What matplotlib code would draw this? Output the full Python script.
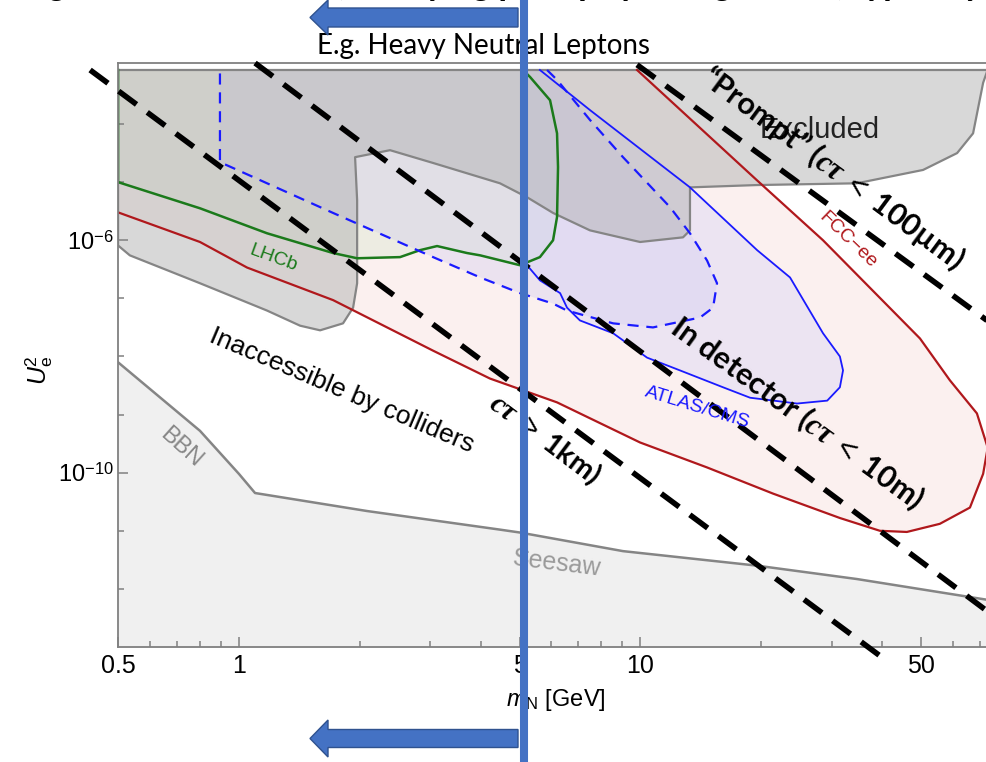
import matplotlib.pyplot as plt
import numpy as np
from matplotlib.lines import Line2D
from matplotlib.patches import FancyArrow
from matplotlib.ticker import NullFormatter
from matplotlib import transforms

plt.rcParams['font.family'] = ['Liberation Sans', 'DejaVu Sans']
plt.rcParams['mathtext.fontset'] = 'custom'
plt.rcParams['mathtext.rm'] = 'Liberation Sans'
plt.rcParams['mathtext.sf'] = 'Liberation Sans:italic'
plt.rcParams['mathtext.it'] = 'Liberation Serif:italic:bold'
plt.rcParams['mathtext.bf'] = 'Liberation Sans:bold'

# HNL sensitivity regions, mass in GeV and log10(U_e^2)
U2_TOP = -3.07

excl_m = [0.5, 73.5, 73.0, 71.4, 67.4, 61.5, 50.6, 34.6, 19.53, 13.29, 13.29, 12.77,
          9.98, 7.49, 6.06, 5.22, 4.47, 3.045, 2.379, 1.947, 1.97, 1.97, 1.925, 1.817,
          1.593, 1.42, 1.175, 0.8, 0.535, 0.5, 0.5]
excl_lu = [U2_TOP, U2_TOP, -3.10, -3.29, -4.16, -4.50, -4.79, -5.02, -5.05, -5.09, -5.83, -5.95,
           -6.03, -5.83, -5.53, -5.26, -5.02, -4.67, -4.45, -4.57, -5.31, -6.74, -7.16, -7.43,
           -7.55, -7.47, -7.21, -6.74, -6.26, -6.09, U2_TOP]

bbn_m = [0.5, 0.8, 1.0, 1.097, 2.086, 4.47, 5.014, 9.05, 19.53, 34.6, 73.5]
bbn_lu = [-8.10, -9.28, -10.02, -10.35, -10.66, -10.98, -11.03, -11.35, -11.60, -11.83, -12.19]

fcc_m = [9.81, 19.53, 28.5, 49.7, 59.0, 68.9, 73.3, 71.4, 66.2, 55.7, 46.1, 39.5,
         31.4, 21.4, 14.66, 9.98, 6.20, 4.22, 3.045, 1.716, 1.048, 0.8, 0.5]
fcc_lu = [U2_TOP, -4.97, -6.00, -7.69, -8.41, -8.98, -9.57, -10.02, -10.60, -10.88, -11.02, -11.00,
          -10.78, -10.36, -9.91, -9.48, -8.79, -8.38, -7.90, -7.03, -6.47, -6.03, -5.52]

lhcb_m = [5.10, 5.31, 5.956, 6.20, 6.235, 6.20, 6.06, 5.62, 5.014, 3.99, 3.70, 3.116,
          2.827, 2.52, 1.97, 1.716, 1.175, 0.8, 0.5, 0.5]
lhcb_lu = [U2_TOP, -3.19, -3.59, -4.16, -4.74, -5.60, -6.00, -6.29, -6.43, -6.26, -6.22, -6.10,
           -6.17, -6.29, -6.31, -6.22, -5.88, -5.45, -5.00, U2_TOP]

displ_m = [5.855, 6.20, 7.49, 9.05, 11.85, 13.29, 14.66, 15.52, 15.17, 14.08, 10.75, 8.55,
           6.565, 6.06, 5.014, 3.99, 3.045, 1.716, 0.934, 0.897, 0.897]
displ_lu = [U2_TOP, -3.24, -3.93, -4.57, -5.43, -5.88, -6.35, -6.74, -7.16, -7.33, -7.50, -7.43,
            -7.21, -7.09, -6.91, -6.64, -6.29, -5.53, -4.71, -4.66, U2_TOP]

atlas_m = [5.62, 7.49, 13.29, 19.53, 23.59, 28.5, 31.4, 31.97, 31.4, 29.2, 24.56, 18.76,
           16.06, 12.55, 10.39, 8.55, 7.07, 6.565, 6.31, 5.62, 5.22, 5.07, 5.07]
atlas_lu = [U2_TOP, -3.76, -5.09, -6.17, -6.64, -7.60, -8.00, -8.24, -8.53, -8.76, -8.81, -8.71,
            -8.53, -8.24, -8.02, -7.60, -7.38, -7.16, -6.91, -6.69, -6.43, -6.38, U2_TOP]

# constant decay length contours
km_m, km_lu = [0.426, 40.2], [-3.07, -13.19]
tenm_m, tenm_lu = [1.097, 73.0], [-2.95, -12.38]
prompt_m, prompt_lu = [9.81, 73.0], [-2.98, -7.38]

split_mass = 5.13

x_ticks = [0.5, 1, 5, 10, 50]
x_ticklabels = ['0.5', '1', '5', '10', '50']
x_minor = [0.6, 0.7, 0.8, 0.9, 2, 3, 4, 6, 7, 8, 9, 20, 30, 40, 60, 70]
y_ticks = [1e-10, 1e-6]
y_ticklabels = [r'$10^{-10}$', r'$10^{-6}$']
y_minor = [1e-12, 1e-11, 1e-9, 1e-8, 1e-7, 1e-5, 1e-4]


def u2(lu):
    return 10.0 ** np.asarray(lu)


fig = plt.figure(figsize=(9.87, 7.62), dpi=100)
ax = fig.add_axes([0.1196, 0.1509, 0.8804, 0.7664])
ax.set_xscale('log')
ax.set_yscale('log')
ax.set_xlim(0.5, 73.0)
ax.set_ylim(1e-13, 10 ** -2.95)

# filled regions
ax.fill_between(bbn_m, u2(bbn_lu), 1e-14, color='#f0f0f0', lw=0, zorder=1)
ax.fill(fcc_m + [0.5], u2(fcc_lu + [U2_TOP]), color='#fbf0ef', lw=0, zorder=1.1)
ax.fill(lhcb_m, u2(lhcb_lu), color='#d8e8d0', alpha=0.4, lw=0, zorder=1.2)
ax.fill(displ_m, u2(displ_lu), color='#c8c4f0', alpha=0.3, lw=0, zorder=1.3)
ax.fill(atlas_m, u2(atlas_lu), color='#d2d0f8', alpha=0.35, lw=0, zorder=1.4)
ax.fill(excl_m, u2(excl_lu), color='#b3b3b3', alpha=0.5, lw=0, zorder=1.5)

# outlines
ax.plot(excl_m, u2(excl_lu), color='#858585', lw=1.6, zorder=2)
ax.plot(bbn_m, u2(bbn_lu), color='#858585', lw=1.8, zorder=2)
ax.plot(fcc_m, u2(fcc_lu), color='#b0181c', lw=1.6, zorder=2.1)
ax.plot(lhcb_m, u2(lhcb_lu), color='#1b7a1b', lw=1.8, zorder=2.2)
ax.plot(displ_m, u2(displ_lu), color='#1a1aff', lw=1.6, dashes=(5, 3.5), zorder=2.3)
ax.plot(atlas_m, u2(atlas_lu), color='#1a1aff', lw=1.3, zorder=2.4)

for lm, llu in [(km_m, km_lu), (tenm_m, tenm_lu), (prompt_m, prompt_lu)]:
    ax.plot(lm, u2(llu), color='black', lw=4, dashes=(4, 2.4),
            solid_capstyle='butt', dash_capstyle='butt', clip_on=False, zorder=3)

# axes styling
for side in ['left', 'bottom', 'top']:
    ax.spines[side].set_color('#808080')
    ax.spines[side].set_linewidth(1.3)
ax.spines['right'].set_visible(False)
ax.set_xticks(x_ticks)
ax.set_xticklabels(x_ticklabels)
ax.set_xticks(x_minor, minor=True)
ax.set_yticks(y_ticks)
ax.set_yticklabels(y_ticklabels)
ax.set_yticks(y_minor, minor=True)
ax.xaxis.set_minor_formatter(NullFormatter())
ax.yaxis.set_minor_formatter(NullFormatter())
ax.tick_params(which='both', direction='in', color='#808080', width=1.1, top=False, right=False)
ax.tick_params(which='major', length=7)
ax.tick_params(which='minor', length=4.5)
ax.tick_params(axis='x', labelsize=18, pad=5)
ax.tick_params(axis='y', labelsize=17, pad=3)

ax.set_xlabel(r'$\mathsf{m}_{\mathrm{N}}$ [GeV]', fontsize=17, va='center')
ax.xaxis.set_label_coords(0.504, -0.091)
ax.set_ylabel(r'$\mathsf{U}_{\mathrm{e}}^{2}$', fontsize=18, va='center')
ax.yaxis.set_label_coords(-0.091, 0.474)

# region labels
ax.text(28.0, u2(-4.10), 'Excluded', fontsize=21, color='#222222', ha='center', va='center', zorder=4)
ax.text(1.807, u2(-8.59), 'Inaccessible by colliders', fontsize=19, rotation=-23,
        rotation_mode='anchor', ha='center', va='center', zorder=4)
ax.text(32.9, u2(-6.0), 'FCC\u2212ee', fontsize=14, color='#b0181c', rotation=-44,
        rotation_mode='anchor', ha='center', va='center', zorder=4)
ax.text(13.84, u2(-8.88), 'ATLAS/CMS', fontsize=14, color='#1a1aff', rotation=-17,
        rotation_mode='anchor', ha='center', va='center', zorder=4)
ax.text(1.216, u2(-6.31), 'LHCb', fontsize=14, color='#1b7a1b', rotation=-20,
        rotation_mode='anchor', ha='center', va='center', zorder=4)
ax.text(0.718, u2(-9.57), 'BBN', fontsize=17, color='#888888', rotation=-42,
        rotation_mode='anchor', ha='center', va='center', zorder=4)
ax.text(6.20, u2(-11.57), 'Seesaw', fontsize=18, color='#9a9a9a', rotation=-7,
        rotation_mode='anchor', ha='center', va='center', zorder=4)

bold = dict(family=['Lato', 'DejaVu Sans'], fontweight='bold', color='black',
            ha='center', va='center', rotation_mode='anchor', zorder=4)
ax.text(30.2, u2(-4.75), '\u201cPrompt\u201d ($c\\tau$ $<$ 100\u00b5m)', fontsize=22, rotation=-36.5, **bold)
ax.text(24.56, u2(-8.98), 'In detector ($c\\tau$ $<$ 10m)', fontsize=22, rotation=-36, **bold)
ax.text(5.79, u2(-9.42), '$c\\tau$ $>$ 1km)', fontsize=21, rotation=-37, **bold)

# slide annotations around the plot
fig.text(0.5, 1.0066, 'Naturally long-lived at low mass, decaying promptly at high mass, typically displaced',
         fontsize=26, family=['Lato', 'DejaVu Sans'], fontweight='bold', fontstyle='italic',
         ha='center', va='baseline')
fig.text(484 / 987, 1 - 46 / 762, 'E.g. Heavy Neutral Leptons', fontsize=20,
         family=['Lato', 'DejaVu Sans'], ha='center', va='center')

for yc, shaft, head in [(1 - 17.5 / 762, 19 / 762, 35 / 762), (1 - 738.5 / 762, 18 / 762, 37 / 762)]:
    fig.add_artist(FancyArrow(518 / 987, yc, -208 / 987, 0, width=shaft, head_width=head,
                              head_length=18 / 987, length_includes_head=True,
                              transform=fig.transFigure, fc='#4472C4', ec='#2F528F', lw=1, zorder=8))

bar_tr = transforms.blended_transform_factory(ax.transData, fig.transFigure)
fig.add_artist(Line2D([split_mass, split_mass], [0, 1], transform=bar_tr,
                      color='#4472C4', lw=5.8, zorder=10))

fig.savefig('out.png', dpi=100)
